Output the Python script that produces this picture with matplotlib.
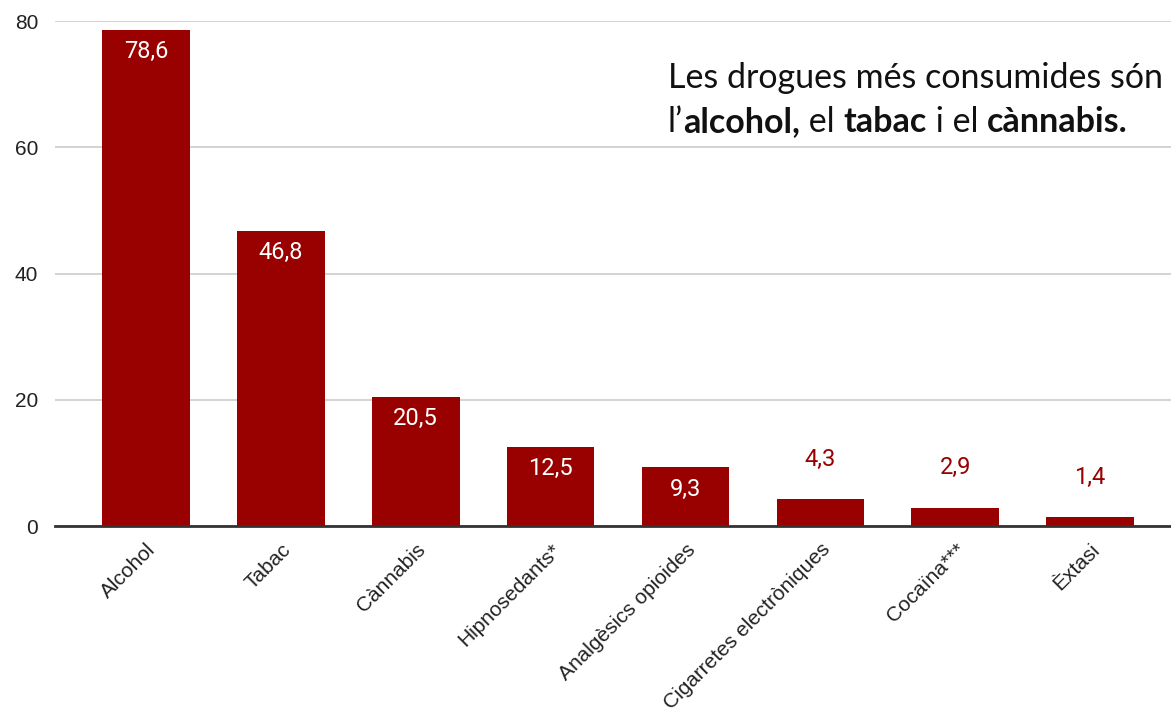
import matplotlib
matplotlib.use("Agg")
import matplotlib.pyplot as plt

categories = ["Alcohol", "Tabac", "Cànnabis", "Hipnosedants*", "Analgèsics opioides",
              "Cigarretes electròniques", "Cocaïna***", "Èxtasi"]
values = [78.6, 46.8, 20.5, 12.5, 9.3, 4.3, 2.9, 1.4]
labels = ["78,6", "46,8", "20,5", "12,5", "9,3", "4,3", "2,9", "1,4"]
yticks = [0, 20, 40, 60, 80]

RED = "#990000"

fig = plt.figure(figsize=(11.71, 7.12), dpi=100)
ax = fig.add_axes([0.047, 0.261, 0.953, 0.7095])

x = list(range(len(categories)))
ax.bar(x, values, width=0.65, color=RED, zorder=3)
ax.set_xlim(-0.675, 7.6)
ax.set_ylim(0, 80)

# value labels: inside tall bars, above the short ones
for xi, v, lab in zip(x, values, labels):
    if v > 8:
        ax.text(xi, v - 1.6, lab, ha="center", va="top", color="white",
                fontsize=17, family="Roboto", zorder=4)
    else:
        ax.text(xi, v + 4.5, lab, ha="center", va="bottom", color=RED,
                fontsize=17, family="Roboto", zorder=4)

ax.set_yticks(yticks)
ax.set_yticklabels([str(t) for t in yticks], fontsize=15, family="Liberation Sans", color="#222")
ax.set_xticks(x)
ax.set_xticklabels(categories, rotation=45, ha="right", rotation_mode="anchor",
                   fontsize=15, family="Liberation Sans", color="#222")
ax.tick_params(axis="y", length=0, pad=12)
ax.tick_params(axis="x", length=0, pad=10)

ax.grid(axis="y", color="#cccccc", lw=1.2, zorder=0)
for s in ["top", "right", "left"]:
    ax.spines[s].set_visible(False)
ax.spines["bottom"].set_color("#333333")
ax.spines["bottom"].set_linewidth(2)
ax.spines["bottom"].set_zorder(5)

# annotation with bold keywords
fs = 24.5
x0, y1, y2 = 668 / 1171, 1 - 88 / 712, 1 - 132 / 712
fig.text(x0, y1, "Les drogues més consumides són", fontsize=fs, family="Lato",
         color="#111", va="baseline")
pieces = [("l’", "normal"), ("alcohol,", "bold"), (" el ", "normal"), ("tabac", "bold"),
          (" i el ", "normal"), ("cànnabis.", "bold")]
fig.canvas.draw()
r = fig.canvas.get_renderer()
cx = x0
for txt, w in pieces:
    t = fig.text(cx, y2, txt, fontsize=fs, family="Lato", weight=w, color="#111",
                 va="baseline")
    bb = t.get_window_extent(renderer=r)
    cx += bb.width / fig.bbox.width

fig.savefig("out.png", dpi=100)
